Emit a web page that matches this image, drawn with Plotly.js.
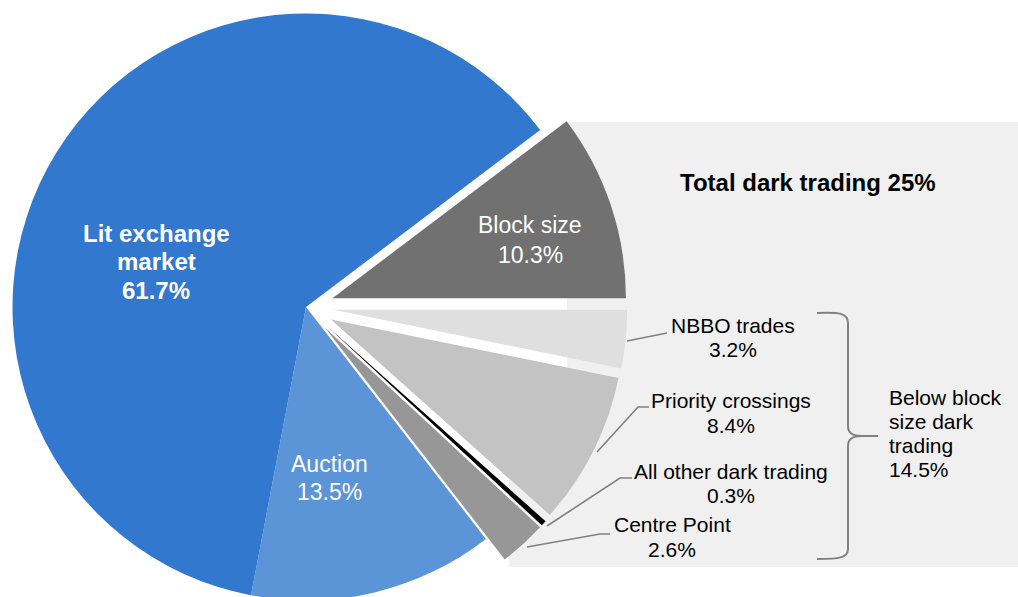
<!DOCTYPE html>
<html>
<head>
<meta charset="utf-8">
<script src="https://cdn.plot.ly/plotly-3.0.1.min.js"></script>
<style>
  html, body { margin: 0; padding: 0; width: 1018px; height: 597px; overflow: hidden; background: #ffffff; }
  #chart { position: absolute; left: -40px; top: -40px; width: 1098px; height: 677px; }
</style>
</head>
<body>
<div id="chart"></div>
<script>
// ---- data ----
const labels = ['NBBO trades', 'Priority crossings', 'All other dark trading', 'Centre Point', 'Auction', 'Lit exchange\nmarket', 'Block size'];
const values = [3.2, 8.4, 0.3, 2.6, 13.5, 61.7, 10.3];
const isDark = [true, true, true, true, false, false, true];
const isBelowBlock = [true, true, true, true, false, false, false];
const titleText = 'Total dark trading';
const bracketLabel = 'Below block\nsize dark\ntrading';

// ---- styles ----
const colors = ['#dfdfdf', '#c3c3c3', '#000000', '#979797', '#5c94d8', '#3178ce', '#717171'];
const pulls = [0.095, 0.095, 0.095, 0.095, 0, 0, 0.095];
const FONT = 'Liberation Sans, Arial, sans-serif';

// page geometry (pixels in the 1018x597 view)
const OFF = 40, W = 1098, H = 677;
const px = x => (x + OFF) / W;
const py = y => 1 - (y + OFF) / H;

// pie placement
const CX = 306, CY = 307, R = 293.5;
const maxPull = Math.max(...pulls);
const half = R * (1 + maxPull);
const domX = [px(CX - half), px(CX + half)];
const domY = [py(CY + half), py(CY - half)];

// label placement: [x, firstLineY, lineStep, fontSize, bold, color, anchor]
const labelPos = [
  [733, 325.9, 23.4, 21, false, '#000000', 'center'],
  [730.5, 400.6, 24.5, 21, false, '#000000', 'center'],
  [730.5, 471.7, 23.7, 21, false, '#000000', 'center'],
  [672, 524.7, 24.6, 21, false, '#000000', 'center'],
  [329, 464, 28, 23, false, '#ffffff', 'center'],
  [156, 233.5, 28.3, 24, true, '#ffffff', 'center'],
  [530, 225.4, 29.4, 23, false, '#ffffff', 'center']
];

const annotations = [];
function addLines(lines, x, y0, dy, size, bold, color, anchor) {
  lines.forEach((t, i) => {
    annotations.push({
      xref: 'paper', yref: 'paper', x: px(x), y: py(y0 + i * dy),
      xanchor: anchor, yanchor: 'middle', showarrow: false,
      text: bold ? '<b>' + t + '</b>' : t,
      font: { family: FONT, size: size, color: color }
    });
  });
}

labels.forEach((lab, i) => {
  const p = labelPos[i];
  const lines = lab.split('\n').concat([values[i].toFixed(1) + '%']);
  addLines(lines, p[0], p[1], p[2], p[3], p[4], p[5], p[6]);
});

const darkTotal = values.reduce((s, v, i) => s + (isDark[i] ? v : 0), 0);
const belowTotal = values.reduce((s, v, i) => s + (isBelowBlock[i] ? v : 0), 0);

addLines([titleText + ' ' + Math.round(darkTotal) + '%'], 807.5, 182.5, 0, 24, true, '#000000', 'center');
addLines(bracketLabel.split('\n').concat([belowTotal.toFixed(1) + '%']), 887, 397.7, 23.9, 21, false, '#000000', 'left');

// ---- decorations ----
function pathOf(cmds) {
  return cmds.map(c => c[0] + ' ' + c.slice(1).map((v, k) => (k % 2 === 0 ? px(v) : py(v)).toFixed(5)).join(' ')).join(' ');
}
const lineStyle = { color: '#808080', width: 1.6 };
const shapes = [
  { type: 'rect', xref: 'paper', yref: 'paper', layer: 'below', x0: px(567), x1: px(1040), y0: py(567), y1: py(122),
    fillcolor: '#f0f0f0', line: { width: 0 } },
  { type: 'rect', xref: 'paper', yref: 'paper', layer: 'below', x0: px(509), x1: px(568), y0: py(567), y1: py(420),
    fillcolor: '#f0f0f0', line: { width: 0 } },
  // leader lines
  { type: 'path', xref: 'paper', yref: 'paper', path: pathOf([['M', 627, 341], ['L', 667, 333]]), line: lineStyle },
  { type: 'path', xref: 'paper', yref: 'paper', path: pathOf([['M', 597, 452], ['L', 638, 407], ['L', 649, 407]]), line: lineStyle },
  { type: 'path', xref: 'paper', yref: 'paper', path: pathOf([['M', 547, 526], ['L', 620, 478], ['L', 632, 478]]), line: lineStyle },
  { type: 'path', xref: 'paper', yref: 'paper', path: pathOf([['M', 527, 547], ['L', 600, 534], ['L', 610, 534]]), line: lineStyle },
  // bracket
  { type: 'path', xref: 'paper', yref: 'paper', line: { color: '#808080', width: 2 },
    path: pathOf([['M', 817, 313], ['C', 839, 312, 848, 313, 848, 323], ['L', 848, 426],
                  ['C', 848, 433, 852, 436, 862, 436], ['L', 878, 436],
                  ['M', 862, 436], ['C', 852, 436, 848, 439, 848, 446], ['L', 848, 549],
                  ['C', 848, 558, 839, 559, 817, 559]]) }
];

const trace = {
  type: 'pie',
  labels: labels.map(l => l.replace('\n', ' ')),
  values: values,
  sort: false,
  direction: 'clockwise',
  rotation: 90,
  pull: pulls,
  marker: { colors: colors, line: { width: 0 } },
  textinfo: 'none',
  hoverinfo: 'none',
  showlegend: false,
  domain: { x: domX, y: domY }
};

const layout = {
  width: W, height: H,
  margin: { l: 0, r: 0, t: 0, b: 0 },
  paper_bgcolor: '#ffffff',
  plot_bgcolor: '#ffffff',
  showlegend: false,
  shapes: shapes,
  annotations: annotations,
  font: { family: FONT }
};

Plotly.newPlot('chart', [trace], layout, { displayModeBar: false, staticPlot: true });
</script>
</body>
</html>
